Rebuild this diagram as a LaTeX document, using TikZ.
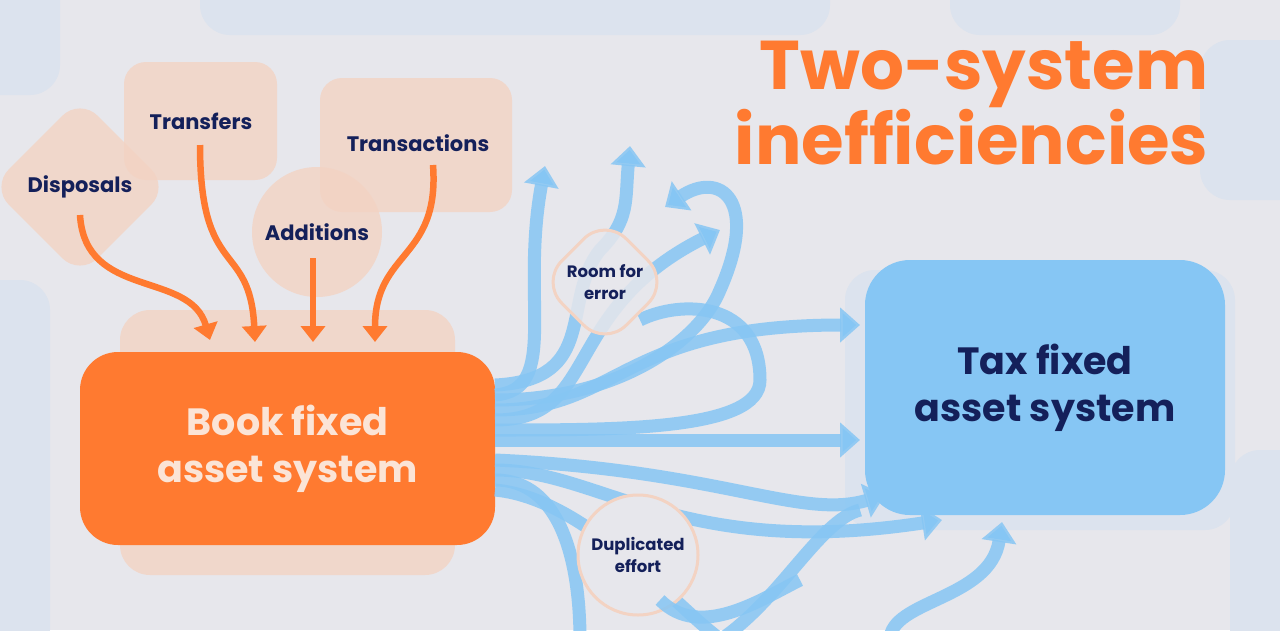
\documentclass[tikz,border=0pt]{standalone}
\usepackage{fontspec}
\setmainfont{Poppins}
\usetikzlibrary{arrows.meta,shapes.geometric}
\definecolor{bg}{HTML}{E7E7EC}
\definecolor{blob}{HTML}{DCE3EE}
\definecolor{peach}{HTML}{F3D3C3}
\definecolor{org}{HTML}{FF7A30}
\definecolor{lblue}{HTML}{86C6F4}
\definecolor{navy}{HTML}{14205A}
\definecolor{ltxt}{HTML}{FBE4D6}
\tikzset{
 oarrow/.style={draw=org,line width=6.5pt,-{Triangle[length=16pt,width=24pt]}},
 barrow/.style={draw=lblue,line width=13pt,draw opacity=0.85,-{Triangle[length=20pt,width=34pt]}},
 bline/.style={draw=lblue,line width=13pt,draw opacity=0.85},
 lab/.style={font=\bfseries\fontsize{21}{22}\selectfont,text=navy,align=center},
 slab/.style={font=\bfseries\fontsize{16.5}{22}\selectfont,text=navy,align=center},
 big/.style={font=\bfseries\fontsize{38}{47}\selectfont,align=center},
 pch/.style={fill=peach,opacity=0.8}
}
\begin{document}
\begin{tikzpicture}[x=1pt,y=-1pt]
\useasboundingbox (0,0) rectangle (1280,630);
\fill[bg] (0,0) rectangle (1280,630);
% background blobs
\fill[blob,rounded corners=30pt] (200,-30) rectangle (830,35);
\fill[blob,rounded corners=30pt] (950,-30) rectangle (1180,35);
\fill[blob,rounded corners=30pt] (-30,280) rectangle (50,660);
\fill[blob,rounded corners=30pt] (1230,450) rectangle (1310,660);
\fill[blob,rounded corners=30pt] (-30,-30) rectangle (60,95);
\fill[blob,rounded corners=30pt] (1200,40) rectangle (1310,200);
\fill[blob,rounded corners=30pt] (845,270) rectangle (1235,530);
% peach shapes
\node[pch,diamond,minimum width=178pt,minimum height=178pt,rounded corners=25pt] (dsp) at (80,187) {};
\fill[pch,rounded corners=22pt] (124,62) rectangle (277,180);
\fill[pch,rounded corners=22pt] (320,78) rectangle (512,212);
\fill[pch] (317,232) circle (65);
\fill[pch,rounded corners=30pt] (120,310) rectangle (455,575);
% labels
\node[lab] (disp) at (80,187) {Disposals};
\node[lab] (tran) at (201,121) {Transfers};
\node[lab] (txn) at (418,143) {Transactions};
\node[lab] (add) at (317,232) {Additions};
% boxes
\node[fill=org,rounded corners=38pt,minimum width=415pt,minimum height=193pt,text=ltxt,big] (book) at (287.5,448.5) {Book fixed\\asset system};
\node[fill=lblue,rounded corners=45pt,minimum width=360pt,minimum height=255pt,text=navy,big] (tax) at (1045,387.5) {Tax fixed\\asset system};
% orange arrows
\coordinate (a1) at (210,340); \coordinate (a2) at (255,342);
\coordinate (a3) at (313,342); \coordinate (a4) at (375,342);
\draw[oarrow] (80,215) .. controls (85,300) and (190,270) .. (a1);
\draw[oarrow] (200,145) .. controls (200,280) and (250,240) .. (a2);
\draw[oarrow] (313,258) -- (a3);
\draw[oarrow] (433,165) .. controls (440,260) and (375,250) .. (a4);
% blue arrows
\coordinate (t1) at (860,325); \coordinate (t2) at (860,440);
\coordinate (u1) at (545,166); \coordinate (u2) at (630,146);
\coordinate (u3) at (665,207); \coordinate (u4) at (720,230);
\coordinate (d1) at (885,495); \coordinate (d2) at (942,520); \coordinate (d3) at (1002,522);
\draw[barrow] (495,440) -- (t2);
\draw[barrow] (495,410) .. controls (620,410) and (620,325) .. (t1);
\draw[barrow] (495,395) .. controls (560,390) and (520,300) .. (u1);
\draw[barrow] (495,385) .. controls (600,380) and (560,300) .. (600,250) .. controls (630,220) and (625,200) .. (u2);
\draw[barrow] (495,400) .. controls (620,400) and (700,340) .. (720,290) .. controls (760,200) and (720,170) .. (u3);
\draw[barrow] (495,420) .. controls (600,420) and (560,310) .. (u4);
\draw[bline] (495,430) .. controls (620,430) and (760,430) .. (760,380) .. controls (760,300) and (680,300) .. (640,320);
\draw[barrow] (495,470) .. controls (600,470) and (680,560) .. (d2);
\draw[bline] (495,480) .. controls (560,480) and (580,560) .. (580,640);
\draw[barrow] (495,460) .. controls (720,470) and (800,520) .. (d1);
\draw[bline] (495,490) .. controls (600,500) and (700,640) .. (740,650);
\draw[barrow] (890,640) .. controls (890,600) and (990,600) .. (d3);
\draw[bline] (720,640) .. controls (780,600) and (820,520) .. (860,510);
% bubbles
\node[diamond,fill=bg,fill opacity=0.85,draw=peach,line width=3pt,minimum width=130pt,minimum height=130pt,rounded corners=30pt] (rfe) at (605,282) {};
\node[slab] at (rfe) {Room for\\error};
\node[circle,fill=bg,draw=peach,line width=3pt,minimum size=120pt] (dup) at (638,555) {};
\node[slab] at (dup) {Duplicated\\effort};
\draw[bline] (660,600) .. controls (700,640) and (760,600) .. (800,580);
% title
\node[anchor=north east,align=right,text=org,font=\bfseries\fontsize{69}{62}\selectfont] (ttl) at (1212,38) {Two-system\\inefficiencies};
\end{tikzpicture}
\end{document}
